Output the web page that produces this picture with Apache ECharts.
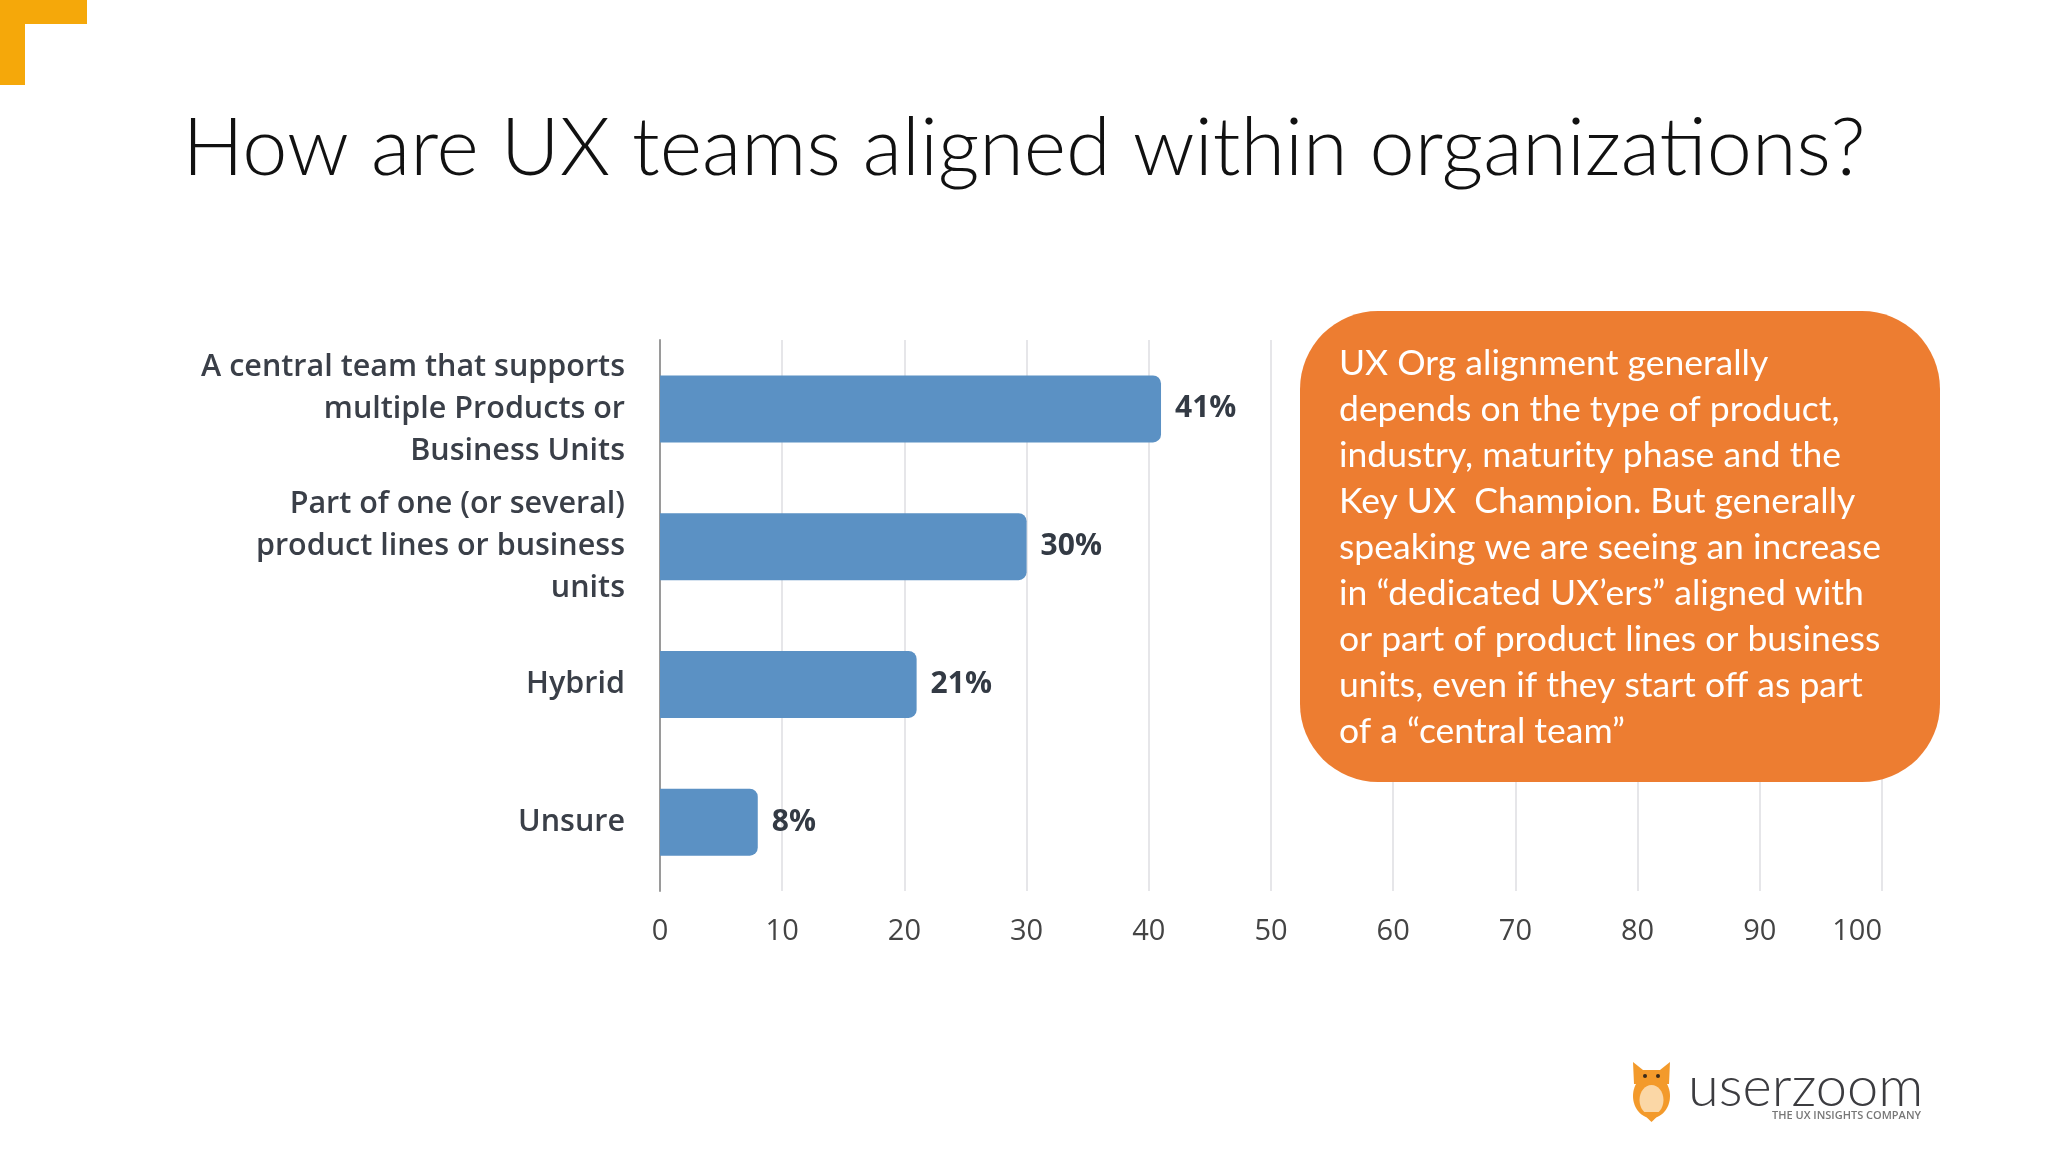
<!DOCTYPE html>
<html>
<head>
<meta charset="utf-8">
<script src="https://cdn.jsdelivr.net/npm/echarts@6/dist/echarts.min.js"></script>
<style>
html,body{margin:0;padding:0;background:#fff;}
#chart{width:2048px;height:1152px;}
</style>
</head>
<body>
<div id="chart"></div>
<script>
const titleText = 'How are UX teams aligned within organizations?';
const categories = [
  'A central team that supports\nmultiple Products or\nBusiness Units',
  'Part of one (or several)\nproduct lines or business\nunits',
  'Hybrid',
  'Unsure'
];
const values = [41, 30, 21, 8];
const valueLabels = ['41%', '30%', '21%', '8%'];
const axisMin = 0, axisMax = 100, axisInterval = 10;
const noteLines = [
  'UX Org alignment generally',
  'depends on the type of product,',
  'industry, maturity phase and the',
  'Key UX  Champion. But generally',
  'speaking we are seeing an increase',
  'in \u201cdedicated UX\u2019ers\u201d aligned with',
  'or part of product lines or business',
  'units, even if they start off as part',
  'of a \u201ccentral team\u201d'
];
const logoName = 'userzoom';
const logoTagline = 'THE UX INSIGHTS COMPANY';

const chart = echarts.init(document.getElementById('chart'));
chart.setOption({
  backgroundColor: '#ffffff',
  animation: false,
  title: {
    text: titleText,
    left: 'center',
    top: 103,
    textStyle: { fontFamily: 'Lato', fontWeight: 300, fontSize: 81, color: '#111111' }
  },
  grid: { left: 660, right: 166, top: 340, height: 551, containLabel: false },
  xAxis: {
    type: 'value',
    min: axisMin, max: axisMax, interval: axisInterval,
    axisLine: { show: false },
    axisTick: { show: false },
    splitLine: { show: true, lineStyle: { color: '#dedee2', width: 1.5 } },
    axisLabel: {
      margin: 26, fontFamily: 'Open Sans', fontSize: 29, color: '#444444',
      alignMaxLabel: 'right'
    }
  },
  yAxis: {
    type: 'category',
    data: categories,
    inverse: true,
    axisLine: { show: true, lineStyle: { color: '#9a9a9a', width: 2 } },
    axisTick: { show: false },
    axisLabel: {
      margin: 35, fontFamily: 'Open Sans', fontWeight: 600, fontSize: 30.5, lineHeight: 42,
      color: '#3a3f48', align: 'right'
    }
  },
  series: [{
    type: 'bar',
    data: values,
    barWidth: 67,
    itemStyle: { color: '#5b91c4', borderRadius: [0, 8, 8, 0] },
    label: {
      show: true, position: 'right', distance: 14,
      formatter: p => valueLabels[p.dataIndex],
      fontFamily: 'Open Sans', fontWeight: 'bold', fontSize: 30, color: '#333a44'
    }
  }],
  graphic: [
    { type: 'rect', z: 100, shape: { x: 0, y: 0, width: 87, height: 24 }, style: { fill: '#f5a80a' } },
    { type: 'rect', z: 100, shape: { x: 0, y: 0, width: 25, height: 85 }, style: { fill: '#f5a80a' } },
    { type: 'rect', z: 100, shape: { x: 1300, y: 311, width: 640, height: 471, r: 78 }, style: { fill: '#ed7d31' } },
    { type: 'text', z: 101, x: 1339, y: 341,
      style: { text: noteLines.join('\n'), fill: '#ffffff', fontFamily: 'Lato', fontSize: 35.5, lineHeight: 46, textVerticalAlign: 'top' } },
    // owl logo
    { type: 'group', z: 100, x: 1633, y: 1062, children: [
      { type: 'polygon', shape: { points: [[0,0],[10,8],[27,8],[37,0],[36,22],[1,22]] }, style: { fill: '#f39a2b' } },
      { type: 'ellipse', shape: { cx: 18.5, cy: 34, rx: 18.5, ry: 22 }, style: { fill: '#f39a2b' } },
      { type: 'ellipse', shape: { cx: 18.5, cy: 38, rx: 12, ry: 15 }, style: { fill: '#fbd7a6' } },
      { type: 'polygon', shape: { points: [[8,50],[18.5,60],[29,50]] }, style: { fill: '#f39a2b' } },
      { type: 'circle', shape: { cx: 12, cy: 14, r: 2 }, style: { fill: '#3a2a1a' } },
      { type: 'circle', shape: { cx: 25, cy: 14, r: 2 }, style: { fill: '#3a2a1a' } }
    ]},
    { type: 'text', z: 100, x: 1688, y: 1088,
      style: { text: logoName, fill: '#3c3c40', fontFamily: 'Lato', fontWeight: 300, fontSize: 56, textVerticalAlign: 'middle' } },
    { type: 'text', z: 100, x: 1772, y: 1116,
      style: { text: logoTagline, fill: '#777777', fontFamily: 'Open Sans', fontWeight: 600, fontSize: 11, textVerticalAlign: 'middle' } }
  ]
});
</script>
</body>
</html>
